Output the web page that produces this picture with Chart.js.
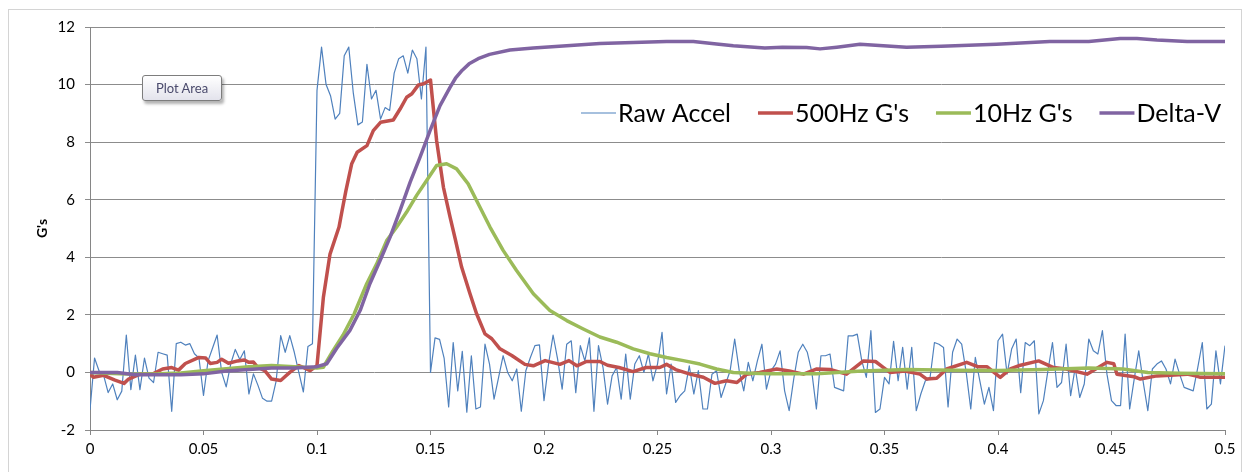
<!DOCTYPE html>
<html>
<head>
<meta charset="utf-8">
<title>G's vs time</title>
<script src="https://cdn.jsdelivr.net/npm/chart.js@4.4.1/dist/chart.umd.min.js"></script>
<style>
  html, body { margin: 0; padding: 0; background: #fff; }
  #wrap { position: relative; width: 1250px; height: 472px; overflow: hidden; }
  #frame { position: absolute; left: 8px; top: 9px; width: 1234px; height: 480px; border: 1px solid #d4d4d4; box-sizing: border-box; }
  #myChart { position: absolute; left: 0; top: 0; }
  #plotTip {
    position: absolute; left: 142px; top: 75px; width: 80px; height: 26px;
    box-sizing: border-box; border: 1px solid #7d7d7d; border-radius: 3px;
    background: linear-gradient(#ffffff, #e3e3ec);
    box-shadow: 2px 3px 3px rgba(0, 0, 0, 0.3);
    font: 13px Lato, sans-serif; color: #4a4a6c; text-align: center; line-height: 24px;
  }
</style>
</head>
<body>
<div id="wrap">
  <div id="frame"></div>
  <canvas id="myChart" width="1250" height="472"></canvas>
  <div id="plotTip">Plot Area</div>
</div>
<script>
const xTicks = [0, 0.05, 0.1, 0.15, 0.2, 0.25, 0.3, 0.35, 0.4, 0.45, 0.5];
const yTicks = [-2, 0, 2, 4, 6, 8, 10, 12];

// raw accelerometer, one sample every 2 ms from t = 0
const sampleStep = 0.002;
const rawAccel = [
  -1.3, 0.5, 0.05, -0.1, -0.7, -0.4, -0.95, -0.65, 1.3, -0.6,
  0.6, -0.6, 0.5, -0.2, -0.35, 0.7, 0.65, 0.6, -1.35, 1.0,
  1.05, 0.95, 1.0, 0.65, 0.5, -0.8, 0.4, 0.85, 1.3, 0.0,
  -0.5, 0.3, 0.8, 0.45, 0.75, -0.75, -0.05, -0.45, -0.9, -1.0,
  -1.0, -0.3, 1.28, 0.7, 1.28, 0.7, 0.0, -0.68, 0.9, 1.0,
  9.8, 11.3, 10.0, 9.6, 8.8, 9.0, 11.0, 11.3, 9.7, 8.6,
  8.7, 10.7, 9.5, 9.8, 8.8, 9.2, 9.1, 10.4, 10.9, 11.0,
  10.4, 11.2, 10.9, 9.5, 11.3, 0.0, 1.2, 1.15, 0.5, -1.2,
  1.04, -0.64, 0.73, -1.38, 0.58, -1.27, -1.2, 0.98, 0.29, -0.93,
  -0.17, 0.58, 0.0, -0.29, 0.12, -1.35, 0.06, 0.52, 0.93, 0.96,
  -0.98, 0.29, 1.3, 0.46, -0.58, 0.98, 1.1, -0.7, 0.93, 0.4,
  1.2, -1.35, 0.93, 0.17, -1.1, -0.12, 0.17, -0.93, 0.64, -0.93,
  0.29, 0.58, 0.0, 0.64, -0.29, 0.29, 1.39, -0.75, 0.29, -1.04,
  -0.8, -0.64, 0.23, -0.75, 0.06, -1.27, -1.27, -0.06, 0.06, -0.87,
  -0.4, 0.06, 1.16, 0.06, -0.64, 0.35, -0.29, 0.4, 0.98, -0.58,
  0.06, 0.29, 0.75, -0.64, -1.33, -0.23, 0.7, 0.98, 0.7, 0.0,
  -1.27, 0.58, 0.58, 0.64, -0.52, -0.58, -0.64, 1.27, 1.27, 1.33,
  0.4, -0.17, 1.45, -1.39, -1.27, -0.17, -0.4, 1.08, -0.29, 0.87,
  -0.58, 0.87, -1.33, -0.75, -0.29, -0.23, 1.04, 0.98, 0.87, -1.2,
  0.7, 1.16, 0.98, 0.0, -1.27, 0.52, -0.29, -1.1, -0.52, -1.33,
  1.1, 1.33, -0.06, 0.81, 1.16, -0.7, 1.04, 0.93, 1.1, -1.44,
  -0.98, 0.06, 1.04, -0.52, -0.35, 0.98, -0.81, 0.17, -0.87, -0.4,
  1.16, 0.75, 0.64, 1.45, -0.06, -0.98, -1.15, -1.15, 1.33, -1.27,
  -0.23, 0.75, -0.35, -1.33, 0.12, 0.29, 0.4, 0.12, -0.4, 0.46,
  -0.06, -0.52, -0.58, -0.64, 0.17, 1.04, -1.27, -1.1, 0.75, -0.4,
  0.93
];

// 500 Hz filtered
const hz500Time = [
  0, 0.0015, 0.006, 0.011, 0.015, 0.017, 0.022, 0.0275, 0.032, 0.036,
  0.039, 0.042, 0.048, 0.051, 0.053, 0.056, 0.058, 0.061, 0.065, 0.068,
  0.070, 0.072, 0.074, 0.077, 0.080, 0.084, 0.088, 0.092, 0.097, 0.100,
  0.1028, 0.1057, 0.1097, 0.111, 0.1127, 0.1153, 0.1177, 0.122, 0.1248, 0.128,
  0.1336, 0.1366, 0.1395, 0.1418, 0.1447, 0.147, 0.150, 0.1527, 0.1557, 0.1586,
  0.161, 0.1637, 0.1674, 0.1703, 0.174, 0.177, 0.1806, 0.1858, 0.1916, 0.1953,
  0.2005, 0.207, 0.211, 0.2145, 0.2187, 0.2246, 0.228, 0.233, 0.2392, 0.245,
  0.251, 0.254, 0.258, 0.2643, 0.2702, 0.2753, 0.2804, 0.285, 0.2893, 0.295,
  0.3025, 0.308, 0.3143, 0.3202, 0.326, 0.3333, 0.3407, 0.346, 0.349, 0.3524,
  0.359, 0.3656, 0.3686, 0.373, 0.3774, 0.3862, 0.391, 0.3951, 0.401, 0.4054,
  0.409, 0.4179, 0.4245, 0.430, 0.4392, 0.448, 0.451, 0.4524, 0.460, 0.4627,
  0.470, 0.476, 0.4833, 0.487, 0.4892, 0.5
];
const hz500G = [
  -0.06, -0.17, -0.1, -0.27, -0.38, -0.23, -0.06, -0.06, 0.12, 0.17,
  0.08, 0.31, 0.52, 0.5, 0.31, 0.35, 0.46, 0.32, 0.4, 0.43,
  0.35, 0.36, 0.17, 0.06, -0.23, -0.28, 0.0, 0.24, 0.06, 0.24,
  2.6, 4.1, 5.05, 5.6, 6.3, 7.25, 7.65, 7.88, 8.4, 8.69,
  8.77, 9.15, 9.56, 9.68, 9.99, 10.03, 10.16, 8.05, 6.43, 5.4,
  4.6, 3.66, 2.73, 2.04, 1.34, 1.17, 0.82, 0.59, 0.28, 0.23,
  0.41, 0.28, 0.41, 0.23, 0.38, 0.38, 0.25, 0.17, 0.03, 0.17,
  0.17, 0.28, 0.1, -0.06, -0.17, -0.38, -0.29, -0.35, -0.06, 0.0,
  0.12, 0.05, -0.06, 0.12, 0.1, -0.06, 0.4, 0.38, 0.2, 0.0,
  0.05, -0.06, -0.23, -0.2, 0.12, 0.35, 0.2, 0.2, -0.17, 0.12,
  0.23, 0.4, 0.17, 0.12, -0.06, 0.35, 0.3, -0.06, -0.15, -0.23,
  -0.12, -0.1, -0.06, -0.12, -0.17, -0.17
];

// 10 Hz filtered
const hz10Time = [
  0, 0.01, 0.02, 0.03, 0.04, 0.05, 0.06, 0.07, 0.08, 0.09,
  0.1, 0.1028, 0.107, 0.1115, 0.1164, 0.1219, 0.1263, 0.1307, 0.1351, 0.1395,
  0.1439, 0.1483, 0.1527, 0.1571, 0.1615, 0.1666, 0.1718, 0.1762, 0.182, 0.1879,
  0.1953, 0.2026, 0.21, 0.2173, 0.2246, 0.232, 0.2393, 0.2467, 0.254, 0.2614,
  0.2687, 0.276, 0.2834, 0.291, 0.30, 0.32, 0.34, 0.36, 0.38, 0.40,
  0.42, 0.44, 0.455, 0.466, 0.48, 0.5
];
const hz10G = [
  0, -0.04, -0.06, -0.05, -0.02, 0.06, 0.13, 0.2, 0.24, 0.2,
  0.15, 0.18, 0.75, 1.3, 2.04, 3.08, 3.77, 4.58, 5.05, 5.57,
  6.15, 6.67, 7.19, 7.25, 7.07, 6.55, 5.74, 5.05, 4.24, 3.54,
  2.73, 2.15, 1.8, 1.51, 1.23, 1.05, 0.82, 0.65, 0.52, 0.41,
  0.29, 0.12, 0.0, -0.03, -0.05, -0.05, 0.05, 0.1, 0.08, 0.07,
  0.1, 0.15, 0.12, 0.0, -0.03, -0.05
];

// delta-V
const deltaVTime = [
  0, 0.012, 0.02, 0.03, 0.04, 0.05, 0.06, 0.07, 0.08, 0.09,
  0.1, 0.1043, 0.1087, 0.1145, 0.119, 0.1233, 0.1278, 0.1322, 0.1366, 0.141,
  0.1454, 0.1498, 0.1542, 0.1586, 0.161, 0.164, 0.167, 0.171, 0.176, 0.185,
  0.1953, 0.21, 0.2246, 0.2393, 0.254, 0.2658, 0.276, 0.2834, 0.2973, 0.305,
  0.3157, 0.3216, 0.329, 0.3392, 0.3597, 0.375, 0.3993, 0.4228, 0.44, 0.4538,
  0.4612, 0.47, 0.4833, 0.5
];
const deltaV = [
  0, 0, -0.08, -0.08, -0.08, -0.05, 0.05, 0.1, 0.15, 0.15,
  0.2, 0.3, 0.84, 1.46, 2.15, 3.08, 3.89, 4.7, 5.63, 6.6,
  7.48, 8.4, 9.27, 9.9, 10.22, 10.5, 10.72, 10.9, 11.05, 11.2,
  11.27, 11.35, 11.43, 11.46, 11.5, 11.5, 11.41, 11.35, 11.27, 11.3,
  11.29, 11.24, 11.3, 11.4, 11.3, 11.33, 11.4, 11.5, 11.5, 11.6,
  11.6, 11.55, 11.5, 11.5
];

const toPoints = (times, values) => values.map((v, i) => ({ x: times[i], y: v }));
const rawPoints = rawAccel.map((v, i) => ({ x: i * sampleStep, y: v }));

const fontFamily = "Lato, 'Liberation Sans', sans-serif";

// legend drawn inside the plot, like the excel one
const inlineLegend = {
  id: "inlineLegend",
  afterDatasetsDraw(chart) {
    const ctx = chart.ctx;
    ctx.save();
    ctx.font = "25px " + fontFamily;
    ctx.textBaseline = "middle";
    let x = 581;
    const y = 113;
    chart.data.datasets.forEach((ds) => {
      ctx.strokeStyle = ds.borderColor;
      ctx.lineWidth = ds.borderWidth;
      ctx.beginPath();
      ctx.moveTo(x, y);
      ctx.lineTo(x + 35, y);
      ctx.stroke();
      ctx.fillStyle = "#000";
      ctx.fillText(ds.label, x + 37, y + 1);
      x += 37 + ctx.measureText(ds.label).width + 27;
    });
    ctx.restore();
  },
};

const grafica = document.getElementById("myChart");

const datasets = [
  { label: "Raw Accel", data: rawPoints, borderColor: "#4F81BD", borderWidth: 1.2, order: 4 },
  { label: "500Hz G's", data: toPoints(hz500Time, hz500G), borderColor: "#C0504D", borderWidth: 3.5, order: 3 },
  { label: "10Hz G's", data: toPoints(hz10Time, hz10G), borderColor: "#9BBB59", borderWidth: 3.5, order: 2 },
  { label: "Delta-V", data: toPoints(deltaVTime, deltaV), borderColor: "#8064A2", borderWidth: 3.5, order: 1 },
];

const config = {
  type: "line",
  data: { datasets },
  options: {
    responsive: false,
    animation: false,
    events: [],
    layout: { padding: { top: 27, right: 25, left: 0, bottom: 0 } },
    elements: {
      point: { radius: 0 },
      line: { tension: 0, fill: false, borderJoinStyle: "round" },
    },
    plugins: { legend: { display: false }, tooltip: { enabled: false } },
    scales: {
      x: {
        type: "linear",
        min: 0,
        max: 0.5,
        afterBuildTicks: (s) => { s.ticks = xTicks.map((v) => ({ value: v })); },
        afterFit: (s) => { s.height = 42; },
        ticks: { color: "#000", font: { family: fontFamily, size: 15 }, padding: 5, maxRotation: 0, callback: (v) => String(v) },
        grid: { drawOnChartArea: false, drawTicks: true, tickLength: 5, color: "#868686" },
        border: { color: "#868686" },
      },
      y: {
        min: -2,
        max: 12,
        afterBuildTicks: (s) => { s.ticks = yTicks.map((v) => ({ value: v })); },
        afterFit: (s) => { s.width = 90; },
        ticks: { color: "#000", font: { family: fontFamily, size: 15 }, padding: 10 },
        grid: { color: "#8c8c8c", tickLength: 5 },
        border: { color: "#868686" },
        title: { display: true, text: "G's", color: "#000", font: { family: fontFamily, size: 14, weight: "bold" }, padding: { top: 34, bottom: 0 } },
      },
    },
  },
  plugins: [inlineLegend],
};

const mychart = new Chart(grafica, config);
</script>
</body>
</html>
